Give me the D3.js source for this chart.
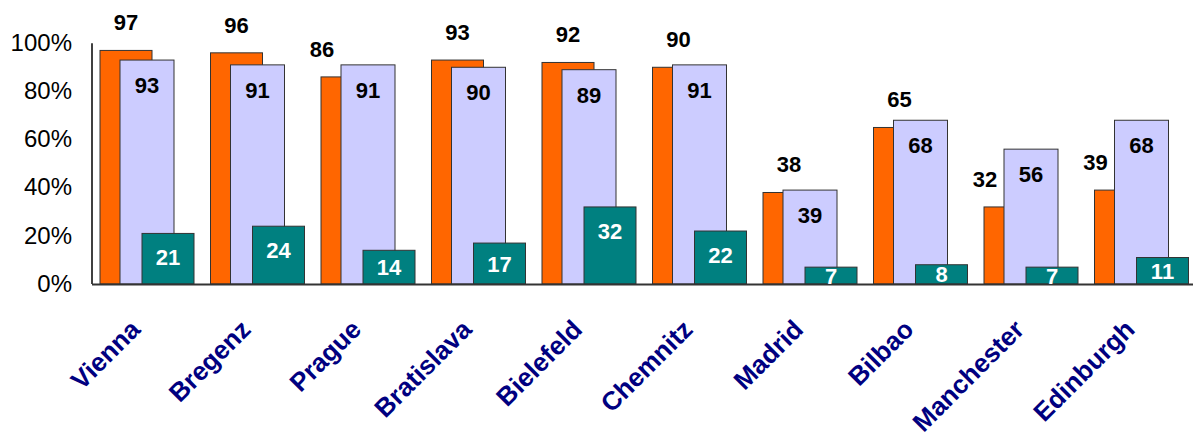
<!DOCTYPE html>
<html>
<head>
<meta charset="utf-8">
<script src="https://cdn.jsdelivr.net/npm/d3@7"></script>
<style>
  html, body { margin: 0; padding: 0; background: #fff; }
  svg { display: block; }
  text { font-family: "Liberation Sans", Arial, Helvetica, sans-serif; }
</style>
</head>
<body>
<svg id="chart" width="1193" height="441"></svg>
<script>
const cities = ["Vienna","Bregenz","Prague","Bratislava","Bielefeld","Chemnitz","Madrid","Bilbao","Manchester","Edinburgh"];
const seriesOrange = [97,96,86,93,92,90,38,65,32,39];
const seriesLavender = [93,91,91,90,89,91,39,68,56,68];
const seriesTeal = [21,24,14,17,32,22,7,8,7,11];
const yTicks = [0,20,40,60,80,100];

const svg = d3.select("#chart");
const W = 1193, H = 441;

const x = d3.scaleBand().domain(cities).range([91.5, 91.5 + 110.5 * cities.length]).padding(0);
const y = d3.scaleLinear().domain([0, 100]).range([284, 43.2]);

const series = [
  { values: seriesOrange, fill: "#FF6600", off: 8.5, w: 52 },
  { values: seriesLavender, fill: "#CCCCFF", off: 28.5, w: 54 },
  { values: seriesTeal, fill: "#008080", off: 50.5, w: 52 }
];

// bars
series.forEach(s => {
  svg.append("g").selectAll("rect")
    .data(cities)
    .join("rect")
    .attr("x", (c) => x(c) + s.off)
    .attr("y", (c, i) => y(s.values[i]))
    .attr("width", s.w)
    .attr("height", (c, i) => y(0) - y(s.values[i]))
    .attr("fill", s.fill)
    .attr("stroke", "#333")
    .attr("stroke-width", 1);
});

// y axis
const yAxis = d3.axisLeft(y).tickValues(yTicks).tickFormat(d => d + "%").tickSize(0).tickPadding(20);
const gy = svg.append("g").attr("transform", "translate(92,0)").call(yAxis);
gy.select(".domain").remove();
gy.selectAll("text")
  .attr("font-size", "24px")
  .attr("fill", "#000")
  .attr("dy", "0.3em")
  .style("font-family", "'Liberation Sans', Arial, sans-serif");

svg.append("line").attr("x1", 92).attr("x2", 92).attr("y1", y(100)).attr("y2", y(0))
  .attr("stroke", "#000").attr("stroke-width", 1.5);
svg.append("line").attr("x1", 92).attr("x2", W).attr("y1", y(0) + 0.5).attr("y2", y(0) + 0.5)
  .attr("stroke", "#333").attr("stroke-width", 2);

// orange labels (above)
svg.append("g").selectAll("text")
  .data(cities)
  .join("text")
  .attr("x", (c, i) => x(c) + 8.5 + 26 - (seriesLavender[i] > seriesOrange[i] + 3 ? 25 : 0))
  .attr("y", (c, i) => y(seriesOrange[i]) - 20)
  .attr("text-anchor", "middle")
  .attr("font-size", "22px")
  .attr("font-weight", "bold")
  .attr("fill", "#000")
  .text((c, i) => seriesOrange[i]);

// lavender labels (inside top)
svg.append("g").selectAll("text")
  .data(cities)
  .join("text")
  .attr("x", (c) => x(c) + 28.5 + 27)
  .attr("y", (c, i) => y(seriesLavender[i]) + 33)
  .attr("text-anchor", "middle")
  .attr("font-size", "22px")
  .attr("font-weight", "bold")
  .attr("fill", "#000")
  .text((c, i) => seriesLavender[i]);

// teal labels (inside, white)
svg.append("g").selectAll("text")
  .data(cities)
  .join("text")
  .attr("x", (c) => x(c) + 50.5 + 26)
  .attr("y", (c, i) => {
    const top = y(seriesTeal[i]);
    const mid = (top + y(0)) / 2;
    return Math.min(top + 24, mid) + 8;
  })
  .attr("text-anchor", "middle")
  .attr("font-size", "22px")
  .attr("font-weight", "bold")
  .attr("fill", "#fff")
  .text((c, i) => seriesTeal[i]);

// category labels
svg.append("g").selectAll("text")
  .data(cities)
  .join("text")
  .attr("transform", c => `translate(${x(c) + x.bandwidth() / 2 - 5},331) rotate(-45)`)
  .attr("text-anchor", "end")
  .attr("font-size", "26px")
  .attr("font-weight", "bold")
  .attr("fill", "#000080")
  .text(c => c);
</script>
</body>
</html>
